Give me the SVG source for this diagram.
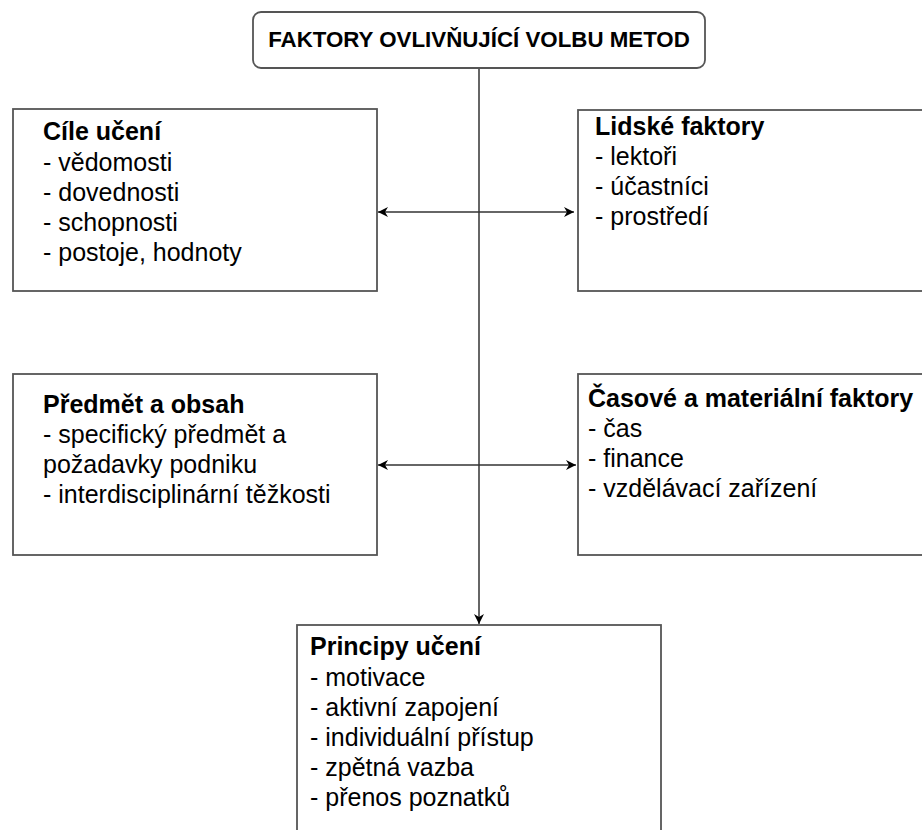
<svg xmlns="http://www.w3.org/2000/svg" width="922" height="830" viewBox="0 0 922 830">
  <style>
    .box { fill: #ffffff; stroke: #555555; stroke-width: 1.8; }
    .t { font-family: "Liberation Sans", Arial, sans-serif; font-size: 25px; fill: #000; }
    .b { font-weight: bold; }
    .h { font-family: "Liberation Sans", Arial, sans-serif; font-size: 22.3px; font-weight: bold; fill: #000; }
    .conn { stroke: #333; stroke-width: 1.5; fill: none; }
  </style>
  <defs>
    <marker id="arr" viewBox="0 0 10 10" refX="10" refY="5" markerWidth="11" markerHeight="10" markerUnits="userSpaceOnUse" orient="auto-start-reverse">
      <path d="M0,0 L10,5 L0,10 L3,5 z" fill="#000"/>
    </marker>
  </defs>
  <rect width="922" height="830" fill="#ffffff"/>

  <g id="connectors">
    <line class="conn" x1="479" y1="68" x2="479" y2="624" marker-end="url(#arr)"/>
    <line class="conn" x1="378" y1="212" x2="574" y2="212" marker-start="url(#arr)" marker-end="url(#arr)"/>
    <line class="conn" x1="378" y1="465" x2="576" y2="465" marker-start="url(#arr)" marker-end="url(#arr)"/>
  </g>

  <g id="title">
    <rect class="box" x="253" y="12" width="452" height="56" rx="8" ry="8"/>
    <text class="h" x="479" y="47" text-anchor="middle">FAKTORY OVLIVŇUJÍCÍ VOLBU METOD</text>
  </g>

  <g id="cile">
    <rect class="box" x="13" y="109" width="364" height="182"/>
    <text class="t" x="43" y="140"><tspan class="b">Cíle učení</tspan><tspan x="43" y="171">- vědomosti</tspan><tspan x="43" y="201">- dovednosti</tspan><tspan x="43" y="231">- schopnosti</tspan><tspan x="43" y="261">- postoje, hodnoty</tspan></text>
  </g>

  <g id="lidske">
    <rect class="box" x="578" y="110" width="362" height="181"/>
    <text class="t" x="595" y="135"><tspan class="b">Lidské faktory</tspan><tspan x="595" y="165">- lektoři</tspan><tspan x="595" y="195">- účastníci</tspan><tspan x="595" y="225">- prostředí</tspan></text>
  </g>

  <g id="predmet">
    <rect class="box" x="13" y="374" width="364" height="181"/>
    <text class="t" x="43" y="413"><tspan class="b">Předmět a obsah</tspan><tspan x="43" y="443">- specifický předmět a</tspan><tspan x="43" y="473">požadavky podniku</tspan><tspan x="43" y="503">- interdisciplinární těžkosti</tspan></text>
  </g>

  <g id="casove">
    <rect class="box" x="578" y="374" width="362" height="181"/>
    <text class="t" x="588" y="407"><tspan class="b">Časové a materiální faktory</tspan><tspan x="588" y="437">- čas</tspan><tspan x="588" y="467">- finance</tspan><tspan x="588" y="497">- vzdělávací zařízení</tspan></text>
  </g>

  <g id="principy">
    <rect class="box" x="297" y="625" width="364" height="230"/>
    <text class="t" x="310" y="655"><tspan class="b">Principy učení</tspan><tspan x="310" y="686">- motivace</tspan><tspan x="310" y="716">- aktivní zapojení</tspan><tspan x="310" y="746">- individuální přístup</tspan><tspan x="310" y="776">- zpětná vazba</tspan><tspan x="310" y="806">- přenos poznatků</tspan></text>
  </g>
</svg>
